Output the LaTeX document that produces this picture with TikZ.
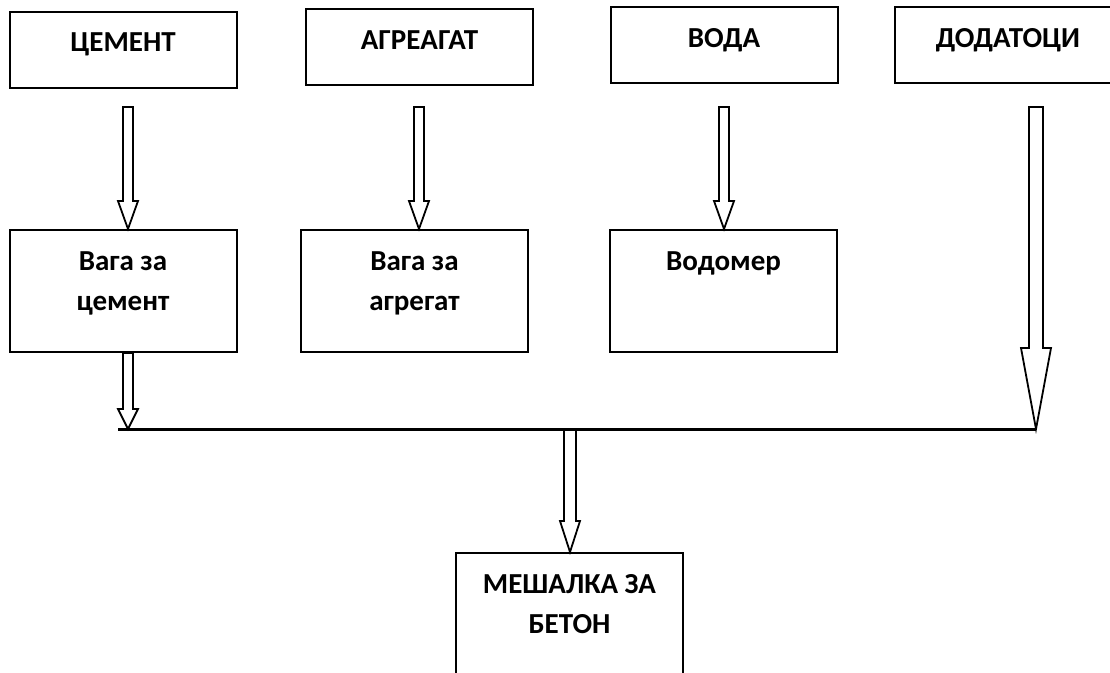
\documentclass[tikz,border=0pt]{standalone}
\usepackage{fontspec}
\setmainfont{Carlito}
\usetikzlibrary{calc}

\tikzset{
  box/.style={draw, line width=2pt, minimum width=227pt, inner sep=0pt},
  topbox/.style={box, minimum height=76pt},
  midbox/.style={box, minimum height=122pt},
  txt/.style={font=\fontsize{29}{40}\selectfont\bfseries, align=center, anchor=north, inner sep=0pt},
  blockline/.style={draw, line width=1.8pt, fill=white},
  busline/.style={line width=3pt}
}
\newcommand{\blockarrow}[5]{%
  \draw[blockline] let \p1=(#1), \p2=(#2) in
    (\x1-#3pt,\y1) -- (\x1-#3pt,\y2+#5pt) -- (\x1-#4pt,\y2+#5pt) -- (\x2,\y2)
    -- (\x1+#4pt,\y2+#5pt) -- (\x1+#3pt,\y2+#5pt) -- (\x1+#3pt,\y1) -- cycle;}

\begin{document}
\begin{tikzpicture}[x=1pt, y=-1pt]
  \useasboundingbox (0,0) rectangle (1110,672);
  \clip (0,0) rectangle (1110,672);

  \node[topbox] (cem) at (123,49.5) {};
  \node[topbox] (agr) at (419.5,47) {};
  \node[topbox] (voda) at (724,45) {};
  \node[topbox] (dod) at (1008,45) {};
  \node[txt] (cemt) at ([yshift=-22pt]cem.north) {ЦЕМЕНТ};
  \node[txt] (agrt) at ([yshift=-22pt]agr.north) {АГРЕАГАТ};
  \node[txt] (vodat) at ([yshift=-22pt]voda.north) {ВОДА};
  \node[txt] (dodt) at ([yshift=-22pt]dod.north) {ДОДАТОЦИ};

  \node[midbox] (vcem) at (123,291) {};
  \node[midbox] (vagr) at (414.5,291) {};
  \node[midbox] (vodm) at (723.5,291) {};
  \node[txt] (vcemt) at ([yshift=-22pt]vcem.north) {Вага за\\цемент};
  \node[txt] (vagrt) at ([yshift=-22pt]vagr.north) {Вага за\\агрегат};
  \node[txt] (vodmt) at ([yshift=-22pt]vodm.north) {Водомер};

  \node[midbox] (mix) at (569.5,614) {};
  \node[txt] (mixt) at ([yshift=-22pt]mix.north) {МЕШАЛКА ЗА\\БЕТОН};

  \coordinate (a1) at (128,107);
  \coordinate (a2) at (419,107);
  \coordinate (a3) at (724,107);
  \coordinate (a4) at (1036,107);
  \coordinate (busL) at (118,429);
  \coordinate (busR) at (1036,429);
  \coordinate (busM) at (570,430);

  \draw[busline] (busL) -- (busR);

  \blockarrow{a1}{a1 |- vcem.north}{5}{10}{28}
  \blockarrow{a2}{a2 |- vagr.north}{5}{10}{28}
  \blockarrow{a3}{a3 |- vodm.north}{5}{10}{28}
  \blockarrow{a1 |- vcem.south}{a1 |- busL}{5}{10}{20}
  \blockarrow{a4}{busR}{7}{15}{81}
  \blockarrow{busM}{busM |- mix.north}{6}{10}{31}
\end{tikzpicture}
\end{document}
